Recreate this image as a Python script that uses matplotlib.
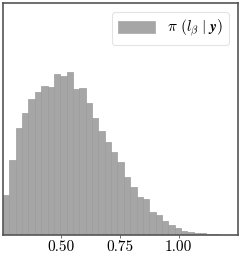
import matplotlib
matplotlib.use("Agg")
import matplotlib.pyplot as plt
import numpy as np

plt.rcParams['font.family'] = 'serif'
plt.rcParams['font.serif'] = ['cmr10']
plt.rcParams['mathtext.fontset'] = 'cm'
plt.rcParams['axes.formatter.use_mathtext'] = True

bin_start = 0.2532
bin_width = 0.02702
heights = [40, 75, 106.7, 121.7, 136.3, 143, 149.3, 148.3, 161, 158.7,
           163.3, 146, 147, 132, 116.7, 104.3, 93, 83.3, 72.7, 57.7,
           48.3, 37.7, 36, 23, 19.7, 14, 10, 6.7, 4.3, 2.7,
           2, 1.7, 0.8, 0.7, 0.5]
edges = bin_start + bin_width * np.arange(len(heights) + 1)
xticks = [0.50, 0.75, 1.00]
label = r'$\pi\ (l_\beta\;|\;\boldsymbol{y})$'

fig = plt.figure(figsize=(2.41, 2.57), dpi=100)
ax = fig.add_axes([3/241, 22/257, 235/241, 232/257])
ax.bar(edges[:-1], heights, width=bin_width, align='edge', color='#a6a6a6',
       edgecolor='#9c9c9c', linewidth=0.5, label=label)
ax.set_xlim(0.2532, 1.252)
ax.set_ylim(0, 232)
ax.set_yticks([])
ax.set_xticks(xticks)
ax.set_xticklabels([f'{t:.2f}' for t in xticks])
ax.tick_params(axis='x', length=2, width=0.6, color='#555555', labelsize=11, pad=2)
for s in ax.spines.values():
    s.set_color('#555555')
    s.set_linewidth(1.2)
leg = ax.legend(loc='upper right', fontsize=11, frameon=True, fancybox=True,
                handlelength=2.4, handleheight=0.8, borderaxespad=0.6)
leg.get_frame().set_edgecolor('#dddddd')
leg.get_frame().set_linewidth(0.8)
for p in leg.get_patches():
    p.set_edgecolor('#a6a6a6')
fig.savefig('out.png', dpi=100)
